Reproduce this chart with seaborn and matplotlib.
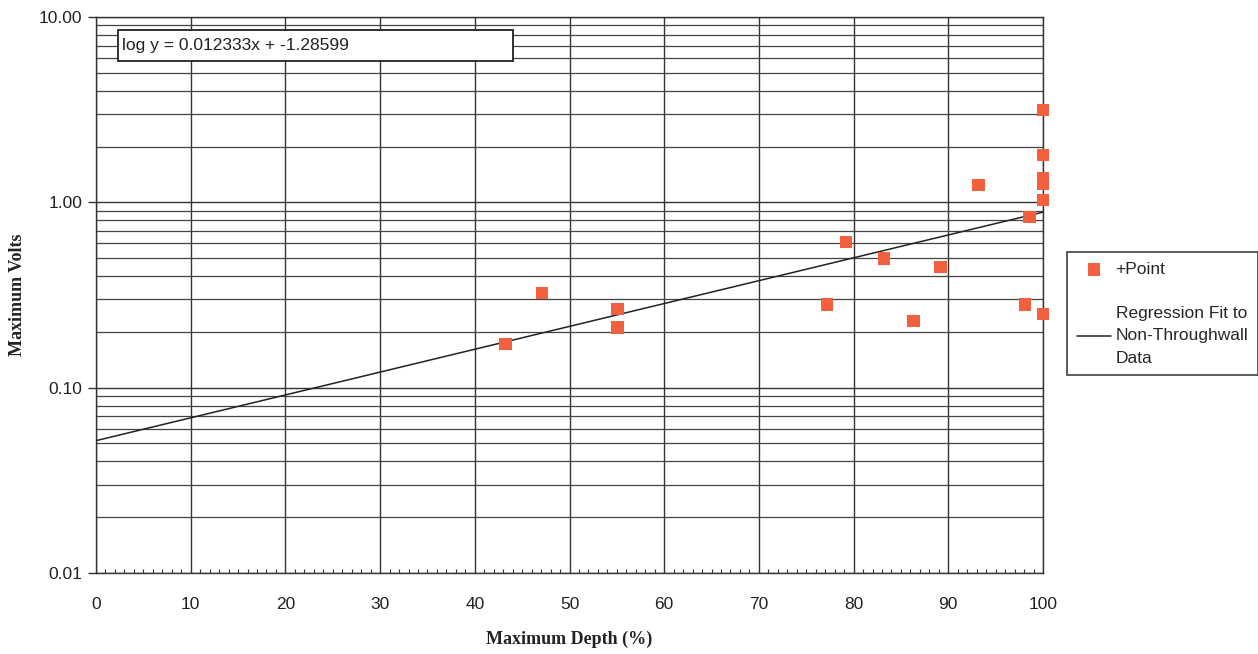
import matplotlib
matplotlib.use("Agg")
import matplotlib.pyplot as plt
import matplotlib.ticker as mticker
from matplotlib.patches import Rectangle
import numpy as np
import pandas as pd
import seaborn as sns

# Data
depth = [43.2, 47.1, 55.1, 55.1, 77.2, 79.2, 83.2, 86.3, 89.2, 93.2, 98.1, 98.6,
         100.0, 100.0, 100.0, 100.0, 100.0, 100.0]
volts = [0.172, 0.324, 0.266, 0.212, 0.282, 0.611, 0.50, 0.229, 0.448, 1.24, 0.282, 0.834,
         3.15, 1.80, 1.35, 1.26, 1.03, 0.25]
slope = 0.012333
intercept = -1.28599
fit_x = [0, 100]
fit_y = [10 ** (intercept + slope * v) for v in fit_x]
x_ticks = [0, 10, 20, 30, 40, 50, 60, 70, 80, 90, 100]
y_ticks = [0.01, 0.1, 1.0, 10.0]
y_tick_labels = ["0.01", "0.10", "1.00", "10.00"]

sns.set_theme(style="white")
plt.rcParams['font.family'] = ['Liberation Sans', 'DejaVu Sans']

fig = plt.figure(figsize=(12.58, 6.54), dpi=100)
ax = fig.add_axes([96 / 1258, 1 - 573 / 654, (1043 - 96) / 1258, (573 - 17) / 654])

df = pd.DataFrame({"depth": depth, "volts": volts})
fit_df = pd.DataFrame({"x": fit_x, "y": fit_y})

sns.lineplot(data=fit_df, x="x", y="y", ax=ax, color="#222222", linewidth=1.1,
             label="Regression Fit to\nNon-Throughwall\nData", zorder=3)
sns.scatterplot(data=df, x="depth", y="volts", ax=ax, marker="s", s=85,
                color="#F2603F", edgecolor="none", label="+Point", zorder=4,
                clip_on=False)

ax.set_yscale("log")
ax.set_xlim(0, 100)
ax.set_ylim(0.01, 10)
ax.set_xticks(x_ticks)
ax.set_xticklabels([str(t) for t in x_ticks], fontsize=12.5, color="#222222")
ax.set_yticks(y_ticks)
ax.set_yticklabels(y_tick_labels, fontsize=12.5, color="#222222")
ax.yaxis.set_minor_locator(mticker.LogLocator(base=10, subs=np.arange(2, 10)))
ax.yaxis.set_minor_formatter(mticker.NullFormatter())
ax.xaxis.set_minor_locator(mticker.MultipleLocator(1))

ax.grid(True, which="major", axis="both", color="#333333", linewidth=1.0)
ax.grid(True, which="minor", axis="y", color="#444444", linewidth=0.9)
ax.set_axisbelow(True)

ax.tick_params(axis="y", which="major", direction="out", length=6, width=1, color="#333333", left=True, pad=4)
ax.tick_params(axis="y", which="minor", length=0)
ax.tick_params(axis="x", which="major", direction="in", length=0, pad=17)
ax.tick_params(axis="x", which="minor", direction="in", length=3, width=0.8, color="#333333", bottom=True)

for side in ["left", "bottom", "right", "top"]:
    ax.spines[side].set_visible(True)
    ax.spines[side].set_color("#333333")
    ax.spines[side].set_linewidth(1.0)

ax.set_xlabel("Maximum Depth (%)", fontsize=13, fontweight="bold",
              family=["Liberation Serif", "DejaVu Serif"], color="#222222")
ax.set_ylabel("Maximum Volts", fontsize=13, fontweight="bold",
              family=["Liberation Serif", "DejaVu Serif"], color="#222222")
ax.xaxis.set_label_coords(0.5, -0.104)
ax.yaxis.set_label_coords(-0.074, 0.5)

# Equation box
ax.add_patch(Rectangle((0.0232, 0.9209), 0.4172, 0.0557, transform=ax.transAxes,
                       facecolor="white", edgecolor="#222222", linewidth=1.3, zorder=5))
ax.text(0.0275, 0.9488, "log y = 0.012333x + -1.28599", transform=ax.transAxes,
        fontsize=12.5, va="center", ha="left", color="#222222", zorder=6)

handles, labels = ax.get_legend_handles_labels()
order = [labels.index("+Point"), labels.index("Regression Fit to\nNon-Throughwall\nData")]
leg = fig.legend([handles[i] for i in order], [labels[i] for i in order],
                 loc="upper left", bbox_to_anchor=(1067 / 1258, 1 - 252 / 654),
                 frameon=True, fancybox=False, fontsize=12.5, labelspacing=1.7,
                 handlelength=2.0, handletextpad=0.25, borderpad=0.55, borderaxespad=0,
                 edgecolor="#222222")
leg.get_frame().set_linewidth(1.3)
for t in leg.get_texts():
    t.set_linespacing(1.6)
if ax.get_legend():
    ax.get_legend().remove()

fig.savefig("out.png", dpi=100, facecolor="white")
